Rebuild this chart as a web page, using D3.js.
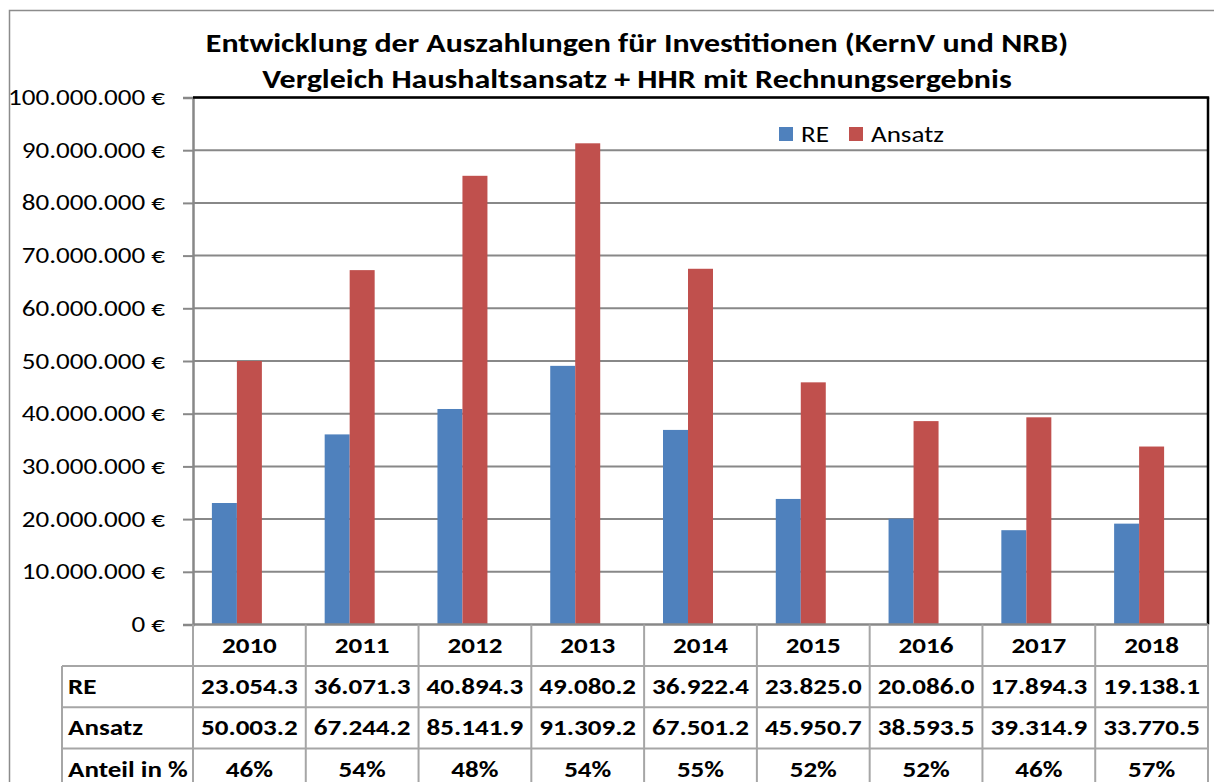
<!DOCTYPE html>
<html>
<head>
<meta charset="utf-8">
<script src="https://cdn.jsdelivr.net/npm/d3@7/dist/d3.min.js"></script>
<style>
  html, body { margin: 0; padding: 0; background: #fff; }
  svg { display: block; font-family: Carlito, Lato, "Open Sans", sans-serif; }
</style>
</head>
<body>
<svg id="chart" width="1214" height="782"></svg>
<script>
// Investment payouts per year: actual result (RE) vs. budget (Ansatz), in thousand €
const years = ["2010", "2011", "2012", "2013", "2014", "2015", "2016", "2017", "2018"];
const reValues = [23054.3, 36071.3, 40894.3, 49080.2, 36922.4, 23825.0, 20086.0, 17894.3, 19138.1];
const ansatzValues = [50003.2, 67244.2, 85141.9, 91309.2, 67501.2, 45950.7, 38593.5, 39314.9, 33770.5];
const shareValues = [46, 54, 48, 54, 55, 52, 52, 46, 57];
const seriesNames = ["RE", "Ansatz", "Anteil in %"];
const yTicks = [0, 10e6, 20e6, 30e6, 40e6, 50e6, 60e6, 70e6, 80e6, 90e6, 100e6];
const titleLines = [
  "Entwicklung der Auszahlungen für Investitionen (KernV und NRB)",
  "Vergleich Haushaltsansatz + HHR mit Rechnungsergebnis"
];

const colors = { "RE": "#4F81BD", "Ansatz": "#C0504D" };
const gridColor = "#888888";
const tableColor = "#a6a6a6";
const widen = 1.23; // horizontal stretch of all chart text

// widen text horizontally while keeping its anchor
function stretch(sel) {
  sel.each(function () {
    const len = this.getComputedTextLength();
    d3.select(this).attr("textLength", len * widen).attr("lengthAdjust", "spacingAndGlyphs");
  });
}

const svg = d3.select("#chart");
const plot = { left: 193, right: 1208, top: 97.5, bottom: 624.5 };

// outer chart frame
svg.append("rect")
  .attr("x", 9.5).attr("y", 10.5)
  .attr("width", 1240).attr("height", 800)
  .attr("fill", "none").attr("stroke", "#8c8c8c").attr("stroke-width", 1.5);

// title
svg.append("g").selectAll("text")
  .data(titleLines).join("text")
  .attr("x", 637).attr("y", (d, i) => 52 + i * 36)
  .attr("text-anchor", "middle")
  .attr("font-weight", "bold").attr("font-size", 26)
  .attr("fill", "#000")
  .text(d => d)
  .call(stretch);

// scales
const x0 = d3.scaleBand().domain(years).range([plot.left, plot.right]).paddingInner(0).paddingOuter(0);
const x1 = d3.scaleBand().domain(seriesNames).range([0, x0.bandwidth()]).paddingInner(0).paddingOuter(0.756);
const y = d3.scaleLinear().domain([0, 100e6]).range([plot.bottom, plot.top]);

const fmtEuro = v => d3.format(",")(v).replace(/,/g, ".") + " €";

// gridlines
svg.append("g").selectAll("line")
  .data(yTicks.filter(t => t > 0)).join("line")
  .attr("x1", plot.left).attr("x2", plot.right)
  .attr("y1", d => y(d)).attr("y2", d => y(d))
  .attr("stroke", gridColor).attr("stroke-width", 2);

// y axis
const yAxis = d3.axisLeft(y).tickValues(yTicks).tickFormat(fmtEuro).tickSize(10).tickPadding(18);
const gy = svg.append("g").attr("transform", `translate(${plot.left},0)`).call(yAxis);
gy.select(".domain").attr("stroke", gridColor).attr("stroke-width", 2.5);
gy.selectAll(".tick line").attr("stroke", gridColor).attr("stroke-width", 2);
gy.selectAll(".tick text")
  .attr("font-size", 22).attr("fill", "#000")
  .attr("font-family", "Carlito, Lato, 'Open Sans', sans-serif")
  .call(stretch);

// bars
const barSeries = [
  { name: "RE", values: reValues },
  { name: "Ansatz", values: ansatzValues }
];
const groups = svg.append("g").selectAll("g")
  .data(years).join("g")
  .attr("transform", d => `translate(${x0(d)},0)`);
groups.selectAll("rect")
  .data((d, i) => barSeries.map(s => ({ name: s.name, value: s.values[i] * 1000 })))
  .join("rect")
  .attr("x", d => x1(d.name))
  .attr("width", x1.bandwidth())
  .attr("y", d => y(d.value))
  .attr("height", d => y(0) - y(d.value))
  .attr("fill", d => colors[d.name]);

// plot frame: black top and right, grey baseline
svg.append("line")
  .attr("x1", plot.left).attr("x2", plot.right + 1.2)
  .attr("y1", plot.top).attr("y2", plot.top)
  .attr("stroke", "#000").attr("stroke-width", 2.5);
svg.append("line")
  .attr("x1", plot.right).attr("x2", plot.right)
  .attr("y1", plot.top).attr("y2", plot.bottom)
  .attr("stroke", "#000").attr("stroke-width", 2.5);
svg.append("line")
  .attr("x1", plot.left).attr("x2", plot.right)
  .attr("y1", plot.bottom).attr("y2", plot.bottom)
  .attr("stroke", gridColor).attr("stroke-width", 2.5);

// legend
const legend = svg.append("g").attr("transform", "translate(779,127)");
const legendItems = legend.selectAll("g")
  .data(["RE", "Ansatz"]).join("g")
  .attr("transform", (d, i) => `translate(${i * 70},0)`);
legendItems.append("rect")
  .attr("width", 14).attr("height", 14)
  .attr("fill", d => colors[d]);
legendItems.append("text")
  .attr("x", 22).attr("y", 14.5)
  .attr("font-size", 22).attr("fill", "#000")
  .text(d => d)
  .call(stretch);

// data table under the plot
const rowTop = [624.5, 666, 707.3, 748.6];
const rowH = 41.3;
const labelLeft = 62;
const fmtNum = v => v.toFixed(1).replace(/\B(?=(\d{3})+(?!\d))/g, ".");
const tableRows = [
  { label: "RE", cells: reValues.map(fmtNum) },
  { label: "Ansatz", cells: ansatzValues.map(fmtNum) },
  { label: "Anteil in %", cells: shareValues.map(v => v + "%") }
];
const tbl = svg.append("g");

// vertical cell borders (category boundaries)
const boundaries = years.map(d => x0(d)).concat([plot.right]);
tbl.selectAll(".vline")
  .data(boundaries).join("line")
  .attr("x1", d => d).attr("x2", d => d)
  .attr("y1", plot.bottom).attr("y2", 800)
  .attr("stroke", tableColor).attr("stroke-width", 2);
// label column left border
tbl.append("line")
  .attr("x1", labelLeft).attr("x2", labelLeft)
  .attr("y1", rowTop[1]).attr("y2", 800)
  .attr("stroke", tableColor).attr("stroke-width", 2);
// horizontal row borders
tbl.selectAll(".hline")
  .data(rowTop.slice(1).concat([rowTop[3] + rowH])).join("line")
  .attr("x1", labelLeft).attr("x2", plot.right)
  .attr("y1", d => d).attr("y2", d => d)
  .attr("stroke", tableColor).attr("stroke-width", 2);

// header (years)
tbl.selectAll(".year")
  .data(years).join("text")
  .attr("x", d => x0(d) + x0.bandwidth() / 2)
  .attr("y", rowTop[0] + 28)
  .attr("text-anchor", "middle")
  .attr("font-weight", "bold").attr("font-size", 22)
  .text(d => d)
  .call(stretch);

tableRows.forEach((row, r) => {
  const top = rowTop[r + 1];
  tbl.append("text")
    .attr("x", labelLeft + 6).attr("y", top + 28)
    .attr("font-weight", "bold").attr("font-size", 22)
    .text(row.label)
    .call(stretch);
  tbl.selectAll(null)
    .data(row.cells).join("text")
    .attr("x", (d, i) => x0(years[i]) + x0.bandwidth() / 2)
    .attr("y", top + 28)
    .attr("text-anchor", "middle")
    .attr("font-weight", "bold").attr("font-size", 22)
    .text(d => d)
    .call(stretch);
});
</script>
</body>
</html>
